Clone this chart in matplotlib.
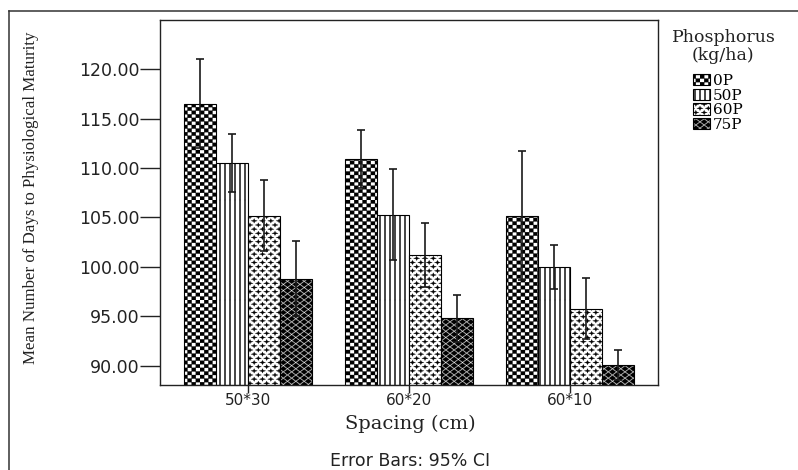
import warnings
import numpy as np
import matplotlib
matplotlib.use("Agg")
import matplotlib.pyplot as plt
import matplotlib.hatch as mhatch
from matplotlib.path import Path
from matplotlib.lines import Line2D

warnings.filterwarnings("ignore", category=matplotlib.MatplotlibDeprecationWarning)

# data
spacing = ["50*30", "60*20", "60*10"]
phosphorus = ["0P", "50P", "60P", "75P"]
mean_0p = [116.5, 110.9, 105.2]
mean_50p = [110.5, 105.3, 100.0]
mean_60p = [105.2, 101.2, 95.8]
mean_75p = [98.8, 94.8, 90.1]
ci_0p = [4.5, 2.9, 6.5]
ci_50p = [2.9, 4.6, 2.2]
ci_60p = [3.6, 3.2, 3.1]
ci_75p = [3.8, 2.4, 1.5]
y_ticks = [90, 95, 100, 105, 110, 115, 120]

# ---- SPSS-like fill patterns as custom hatches (tile = 1 inch = 100 px) ----
PX = 1 / 100.0


def rect(x0, y0, x1, y1):
    return [(x0, y0), (x1, y0), (x1, y1), (x0, y1)]


def lattice(nx, ny):
    pts = [(i / nx, j / ny) for j in range(ny + 1) for i in range(nx + 1)]
    pts += [((i + .5) / nx, (j + .5) / ny) for j in range(ny) for i in range(nx)]
    return pts


def checker_polys(nx=24, ny=28):
    return [rect(i / nx, j / ny, (i + 1) / nx, (j + 1) / ny)
            for i in range(nx) for j in range(ny) if (i + j) % 2 == 0]


def vline_polys(n=20, hw=0.6 * PX):
    return [rect(i / n - hw, 0, i / n + hw, 1) for i in range(n + 1)]


def star_polys(nx=12, ny=12, a=3.0 * PX, b=2.2 * PX, c=0.7 * PX):
    return [[(cx + a, cy), (cx + c, cy + c), (cx, cy + b), (cx - c, cy + c),
             (cx - a, cy), (cx - c, cy - c), (cx, cy - b), (cx + c, cy - c)]
            for cx, cy in lattice(nx, ny)]


def diamond_polys(nx=12, ny=16, s=0.82):
    a, b = s * 0.5 / nx, s * 0.5 / ny
    return [[(cx + a, cy), (cx, cy + b), (cx - a, cy), (cx, cy - b)]
            for cx, cy in lattice(nx, ny)]


HATCH_POLYS = {"c": checker_polys(), "v": vline_polys(),
               "p": star_polys(), "d": diamond_polys()}


class PolyHatch(mhatch.HatchPatternBase):
    def __init__(self, hatch, density):
        self.polys = [p for k, ps in HATCH_POLYS.items() if k in hatch for p in ps]
        self.num_vertices = sum(len(p) + 1 for p in self.polys)

    def set_vertices_and_codes(self, vertices, codes):
        i = 0
        for p in self.polys:
            n = len(p)
            vertices[i:i + n] = p
            vertices[i + n] = p[0]
            codes[i] = Path.MOVETO
            codes[i + 1:i + n] = Path.LINETO
            codes[i + n] = Path.CLOSEPOLY
            i += n + 1


mhatch._hatch_types.append(PolyHatch)
plt.rcParams["hatch.linewidth"] = 0.2

# ---- figure ----
W, H = 798, 470
fig = plt.figure(figsize=(W / 100, H / 100), dpi=100)
ax = fig.add_axes([160 / W, 1 - 385 / H, 498 / W, 365 / H])

y_min, y_max = 88.08, 124.95
x = np.arange(len(spacing))
width = 0.2
series = [(mean_0p, ci_0p, "c"), (mean_50p, ci_50p, "v"),
          (mean_60p, ci_60p, "p"), (mean_75p, ci_75p, "d")]
handles = []
for k, (m, ci, h) in enumerate(series):
    pos = x + (k - 1.5) * width
    bars = ax.bar(pos, np.array(m) - y_min, width, bottom=y_min, color="white",
                  edgecolor="black", linewidth=0.8, hatch=h, zorder=2)
    handles.append(bars)
    ax.errorbar(pos, m, yerr=ci, fmt="none", ecolor="#1a1a1a", elinewidth=1.2,
                capsize=3, capthick=1.2, zorder=3)

ax.set_xlim(-0.547, 2.547)
ax.set_ylim(y_min, y_max)
ax.set_yticks(y_ticks)
ax.set_yticklabels([f"{v:.2f}" for v in y_ticks])
ax.set_xticks(x, spacing)
ax.tick_params(axis="y", length=14.5, width=1, pad=0.5, labelsize=12.5, colors="#222222")
ax.tick_params(axis="x", length=5.5, width=1, pad=0.5, labelsize=11, colors="#222222")
for sp in ax.spines.values():
    sp.set_linewidth(1.0)
    sp.set_color("#222222")

fig.text(31 / W, 1 - 198 / H, "Mean Number of Days to Physiological Maturity",
         rotation=90, ha="center", va="center", family="Liberation Serif",
         fontsize=12.2, color="#222222")
fig.text(410 / W, 1 - 429 / H, "Spacing (cm)", ha="center", va="baseline",
         family="DejaVu Serif", fontsize=14, color="#222222")
fig.text(410 / W, 1 - 466 / H, "Error Bars: 95% CI", ha="center", va="baseline",
         family="DejaVu Sans", fontsize=12.5, color="#222222")

# legend
fig.text(672 / W, 1 - 37 / H, "Phosphorus", ha="left", va="center",
         family="DejaVu Serif", fontsize=12.5, color="#222222")
fig.text(723 / W, 1 - 55 / H, "(kg/ha)", ha="center", va="center",
         family="DejaVu Serif", fontsize=12.5, color="#222222")
fig.legend(handles, phosphorus, loc="upper left", bbox_to_anchor=(693 / W, 1 - 74 / H),
           frameon=False, borderpad=0, borderaxespad=0, handlelength=1.11,
           handleheight=0.78, handletextpad=0.2, labelspacing=0.03,
           prop={"family": "DejaVu Serif", "size": 11})

# outer frame (top and left edges visible)
fig.add_artist(Line2D([9 / W, 9 / W], [0, 1 - 11 / H], color="#333333", lw=1.1,
                      transform=fig.transFigure))
fig.add_artist(Line2D([9 / W, 1], [1 - 11 / H, 1 - 11 / H], color="#333333", lw=1.1,
                      transform=fig.transFigure))

fig.savefig("out.png", dpi=100)
